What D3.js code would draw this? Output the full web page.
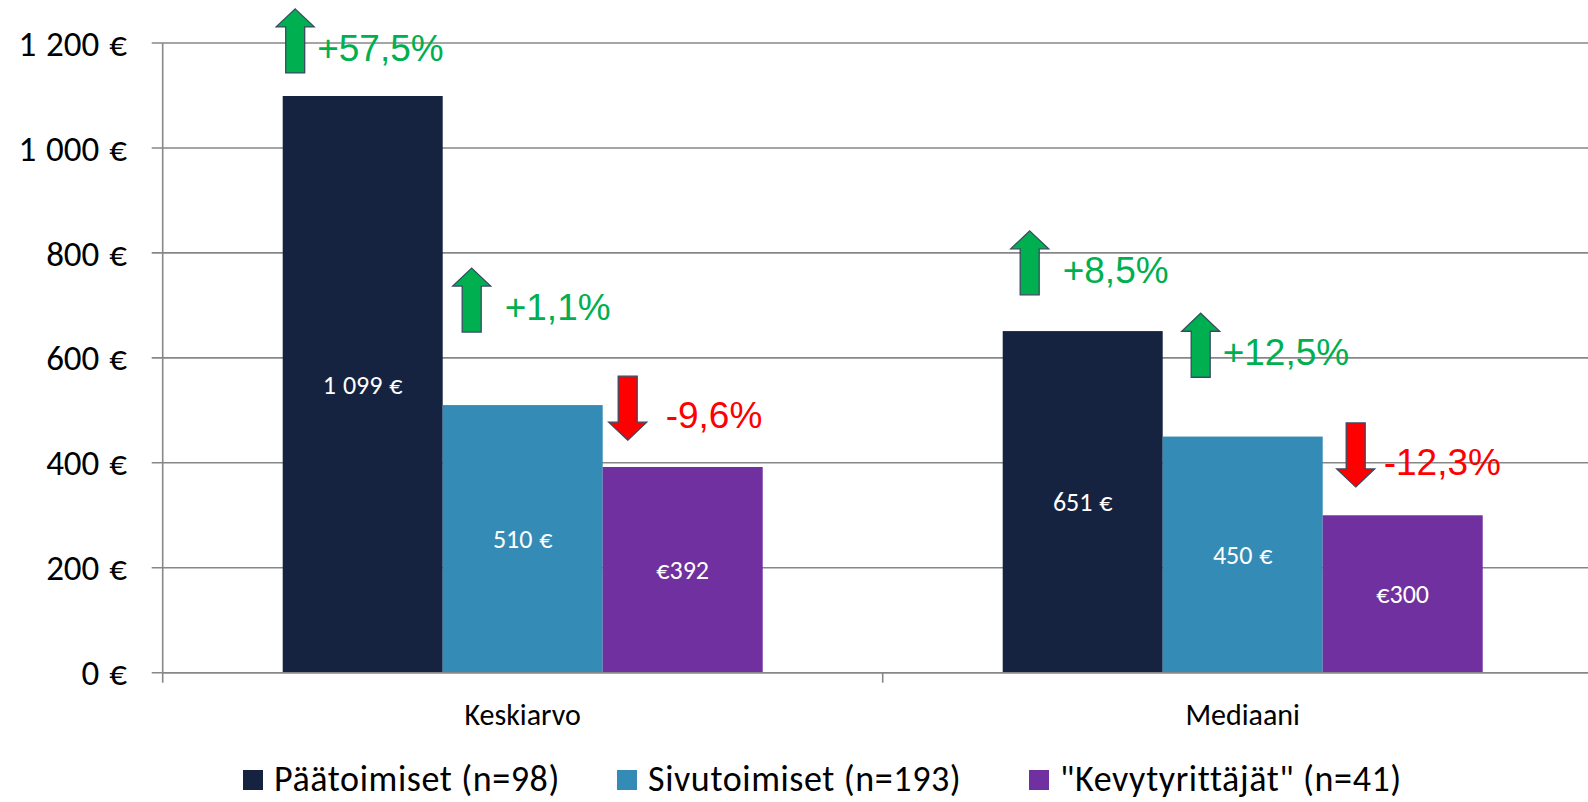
<!DOCTYPE html>
<html>
<head>
<meta charset="utf-8">
<script src="https://cdn.jsdelivr.net/npm/d3@7"></script>
<style>
  html, body { margin: 0; padding: 0; background: #fff; }
  svg { display: block; }
</style>
</head>
<body>
<svg width="1588" height="802"></svg>
<script>
// data
const categories = ["Keskiarvo", "Mediaani"];
const seriesNames = ["Päätoimiset (n=98)", "Sivutoimiset (n=193)", "\"Kevytyrittäjät\" (n=41)"];
const paatoimiset = [1099, 651];
const sivutoimiset = [510, 450];
const kevytyrittajat = [392, 300];
const yTicks = [0, 200, 400, 600, 800, 1000, 1200];
// muutos edelliseen (%), sama järjestys kuin palkit
const changes = [
    {cat: "Keskiarvo", series: 0, value: 57.5},
    {cat: "Keskiarvo", series: 1, value: 1.1},
    {cat: "Keskiarvo", series: 2, value: -9.6},
    {cat: "Mediaani", series: 0, value: 8.5},
    {cat: "Mediaani", series: 1, value: 12.5},
    {cat: "Mediaani", series: 2, value: -12.3}
];

// nuolien sijoittelu (nuolen yläreuna euroina, siirto palkin vasemmasta reunasta, tekstin siirto)
const arrowTop = [1265, 771, 565, 842, 685, 476];
const arrowDx = [12.5, 29, 25, 27, 38, 33];
const textDx = [22, 33, 38, 33, 22, 28];
// selitteen laatikoiden vasen reuna
const legendX = [243, 617, 1029];

const colors = ["#152341", "#338BB6", "#7030A0"];
const calibri = "Carlito, Calibri, Lato, sans-serif";

const svg = d3.select("svg");
const area = {left: 162.7, right: 1602.7, top: 43, bottom: 672.7};

const seriesValues = [paatoimiset, sivutoimiset, kevytyrittajat];

const x0 = d3.scaleBand()
    .domain(categories)
    .range([area.left, area.right]);
const x1 = d3.scaleBand()
    .domain([0, 1, 2])
    .range([0, x0.bandwidth()])
    .paddingInner(0)
    .paddingOuter(0.75);
const y = d3.scaleLinear()
    .domain([0, 1200])
    .range([area.bottom, area.top]);

const euro = v => d3.format(",")(v).replace(/,/g, " ") + " €";

// gridlines + y labels
svg.append("g")
    .selectAll("line")
    .data(yTicks)
    .join("line")
    .attr("x1", area.left - 11)
    .attr("x2", 1588)
    .attr("y1", d => y(d))
    .attr("y2", d => y(d))
    .attr("stroke", "#878787")
    .attr("stroke-width", 1.6);

svg.append("g")
    .selectAll("text")
    .data(yTicks)
    .join("text")
    .attr("x", 127)
    .attr("y", d => y(d))
    .attr("dy", "0.36em")
    .attr("text-anchor", "end")
    .style("font-family", calibri)
    .style("font-size", "35px")
    .style("word-spacing", "2px")
    .attr("fill", "#000")
    .text(d => euro(d));

// bars
const barData = [];
categories.forEach((c, ci) => {
    seriesValues.forEach((vals, si) => {
        barData.push({cat: c, series: si, value: vals[ci]});
    });
});

svg.append("g")
    .selectAll("rect")
    .data(barData)
    .join("rect")
    .attr("x", d => x0(d.cat) + x1(d.series))
    .attr("width", x1.bandwidth())
    .attr("y", d => y(d.value))
    .attr("height", d => y(0) - y(d.value))
    .attr("fill", d => colors[d.series]);

// arvot palkkien sisällä
svg.append("g")
    .selectAll("text")
    .data(barData)
    .join("text")
    .attr("x", d => x0(d.cat) + x1(d.series) + x1.bandwidth() / 2)
    .attr("y", d => (y(d.value) + y(0)) / 2)
    .attr("dy", "0.36em")
    .attr("text-anchor", "middle")
    .style("font-family", calibri)
    .style("font-size", "26px")
    .style("word-spacing", "1px")
    .attr("fill", "#fff")
    .text(d => d.series === 2 ? "€" + d.value : euro(d.value));

// x axis
svg.append("line")
    .attr("x1", area.left).attr("x2", 1588)
    .attr("y1", area.bottom).attr("y2", area.bottom)
    .attr("stroke", "#878787").attr("stroke-width", 1.6);
svg.append("line")
    .attr("x1", area.left).attr("x2", area.left)
    .attr("y1", area.top).attr("y2", area.bottom + 10)
    .attr("stroke", "#878787").attr("stroke-width", 1.6);
svg.append("g")
    .selectAll("line")
    .data(categories.slice(1))
    .join("line")
    .attr("x1", d => x0(d)).attr("x2", d => x0(d))
    .attr("y1", area.bottom).attr("y2", area.bottom + 10)
    .attr("stroke", "#878787").attr("stroke-width", 1.6);

svg.append("g")
    .selectAll("text")
    .data(categories)
    .join("text")
    .attr("x", d => x0(d) + x0.bandwidth() / 2)
    .attr("y", 725)
    .attr("text-anchor", "middle")
    .style("font-family", calibri)
    .style("font-size", "30px")
    .attr("fill", "#000")
    .text(d => d);

// nuolet ja muutosprosentit
const pct = v => (v > 0 ? "+" : "-") + d3.format(".1f")(Math.abs(v)).replace(".", ",") + "%";

function arrowPath(cx, top, up) {
    const h = 64, hh = 18, hw = 19, sw = 9.5;
    if (up) {
        return `M${cx},${top} L${cx + hw},${top + hh} L${cx + sw},${top + hh} L${cx + sw},${top + h}
                L${cx - sw},${top + h} L${cx - sw},${top + hh} L${cx - hw},${top + hh} Z`;
    }
    const b = top + h;
    return `M${cx},${b} L${cx + hw},${b - hh} L${cx + sw},${b - hh} L${cx + sw},${top}
            L${cx - sw},${top} L${cx - sw},${b - hh} L${cx - hw},${b - hh} Z`;
}

changes.forEach((d, i) => {
    const cx = x0(d.cat) + x1(d.series) + arrowDx[i];
    const top = y(arrowTop[i]);
    const up = d.value > 0;
    svg.append("path")
        .attr("d", arrowPath(cx, top, up))
        .attr("fill", up ? "#00B050" : "#FF0000")
        .attr("stroke", "#3A4A63")
        .attr("stroke-width", 1.3);
    svg.append("text")
        .attr("x", cx + textDx[i])
        .attr("y", top + 52)
        .style("font-family", "'Liberation Sans', Arial, sans-serif")
        .style("font-size", "37px")
        .attr("fill", up ? "#00B050" : "#FF0000")
        .text(pct(d.value));
});

// legend
const legend = svg.append("g")
    .selectAll("g")
    .data(seriesNames)
    .join("g")
    .attr("transform", (d, i) => `translate(${legendX[i]}, 770)`);
legend.append("rect")
    .attr("width", 20).attr("height", 20)
    .attr("fill", (d, i) => colors[i]);
legend.append("text")
    .attr("x", 31)
    .attr("y", 21)
    .style("font-family", calibri)
    .style("font-size", "36px")
    .style("letter-spacing", "0.6px")
    .attr("fill", "#000")
    .text(d => d);
</script>
</body>
</html>
